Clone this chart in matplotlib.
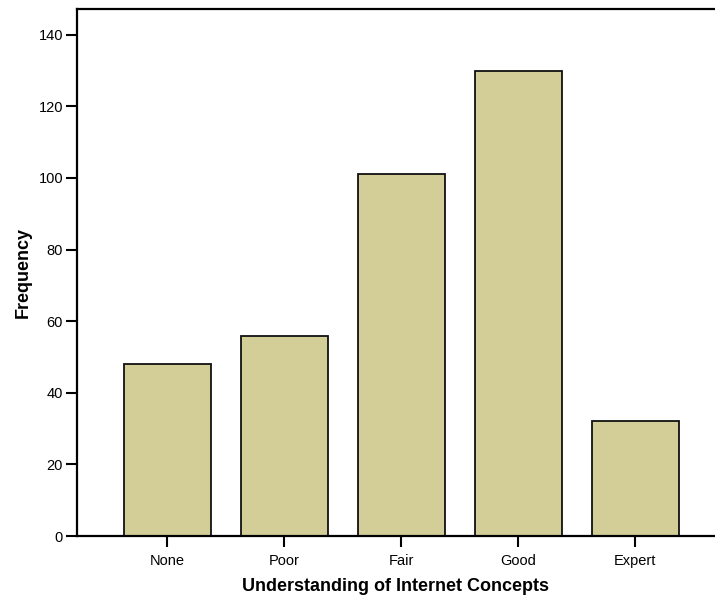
import matplotlib
matplotlib.use("Agg")
import matplotlib.pyplot as plt

categories = ["None", "Poor", "Fair", "Good", "Expert"]
frequency = [48, 56, 101, 130, 32]
yticks = [0, 20, 40, 60, 80, 100, 120, 140]

plt.rcParams['font.family'] = ['Liberation Sans', 'DejaVu Sans']

fig = plt.figure(figsize=(7.15, 6.01), dpi=100)
ax = fig.add_axes([77/715, 1-536/601, 1-77/715, (536-9)/601])

x = list(range(len(categories)))
ax.bar(x, frequency, width=0.745, color="#d3ce97", edgecolor="#111111", linewidth=1.3, zorder=2)

ax.set_xlim(-0.774, 4.684)
ax.set_ylim(0, 147.2)
ax.set_yticks(yticks)
ax.set_xticks(x)
ax.set_xticklabels(categories)

for s in ["left", "bottom", "top"]:
    ax.spines[s].set_linewidth(1.6)
    ax.spines[s].set_color("black")
ax.spines["right"].set_visible(False)

ax.tick_params(axis="both", direction="out", length=8, width=1.5, labelsize=10.5, colors="black")
ax.tick_params(axis="x", pad=5)
ax.tick_params(axis="y", pad=2)

ax.set_xlabel("Understanding of Internet Concepts", fontsize=13, fontweight="bold", labelpad=7)
ax.set_ylabel("Frequency", fontsize=13, fontweight="bold", labelpad=5)

fig.savefig("out.png", dpi=100)
